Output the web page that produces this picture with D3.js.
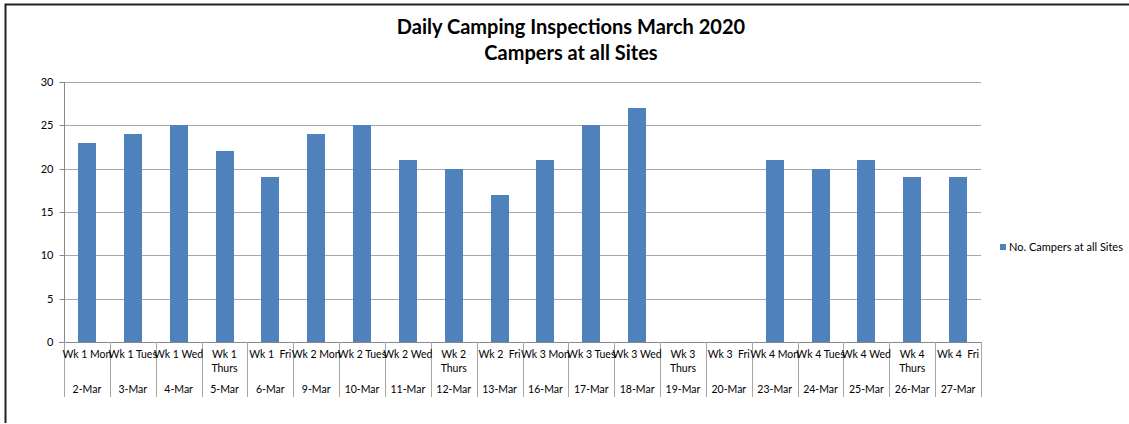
<!DOCTYPE html>
<html><head><meta charset="utf-8">
<script src="https://cdn.jsdelivr.net/npm/d3@7"></script>
<style>body{margin:0;background:#fff}svg{display:block}text{font-family:Lato,"Open Sans",sans-serif;fill:#000}</style>
</head><body><svg id="c" width="1129" height="424"></svg>
<script>
const dayLabels = ["Wk 1 Mon","Wk 1 Tues","Wk 1 Wed","Wk 1|Thurs","Wk 1  Fri","Wk 2 Mon","Wk 2 Tues","Wk 2 Wed","Wk 2|Thurs","Wk 2  Fri","Wk 3 Mon","Wk 3 Tues","Wk 3 Wed","Wk 3|Thurs","Wk 3  Fri","Wk 4 Mon","Wk 4 Tues","Wk 4 Wed","Wk 4|Thurs","Wk 4  Fri"];
const dateLabels = ["2-Mar","3-Mar","4-Mar","5-Mar","6-Mar","9-Mar","10-Mar","11-Mar","12-Mar","13-Mar","16-Mar","17-Mar","18-Mar","19-Mar","20-Mar","23-Mar","24-Mar","25-Mar","26-Mar","27-Mar"];
const campers = [23,24,25,22,19,24,25,21,20,17,21,25,27,null,null,21,20,21,19,19];
const yTicks = [0,5,10,15,20,25,30];
const seriesName = "No. Campers at all Sites";
const titleLines = ["Daily Camping Inspections March 2020","Campers at all Sites"];

const svg = d3.select("#c");
const L=64,R=981,T=82,B=342;
const x = d3.scaleBand().domain(d3.range(dateLabels.length)).range([L,R]).paddingInner(0.61).paddingOuter(0.305);
const xc = d3.scaleBand().domain(d3.range(dateLabels.length)).range([L,R]);
const y = d3.scaleLinear().domain([0,30]).range([B,T]);

// border
svg.append("path").attr("d","M5.5,423 V4.5 H1129").attr("fill","none").attr("stroke","#222").attr("stroke-width",2);

// title
svg.append("text").attr("x",571).attr("y",34).attr("text-anchor","middle").style("font-weight","bold").style("font-size","20px").text(titleLines[0]);
svg.append("text").attr("x",571).attr("y",60).attr("text-anchor","middle").style("font-weight","bold").style("font-size","20px").text(titleLines[1]);

// grid
svg.append("g").selectAll("line").data(yTicks.filter(d=>d>0)).join("line")
 .attr("x1",L).attr("x2",R).attr("y1",d=>Math.round(y(d))+0.5).attr("y2",d=>Math.round(y(d))+0.5).attr("stroke","#a6a6a6");

// y axis
const ya = svg.append("g").attr("transform",`translate(${L+0.5},0)`).call(d3.axisLeft(y).tickValues(yTicks).tickSize(5).tickPadding(6));
ya.select(".domain").attr("stroke","#888").attr("d",`M-5,${T+0.5}H0V${B+0.5}`);
ya.selectAll(".tick line").attr("stroke","#888");
ya.selectAll(".tick").attr("transform",d=>`translate(0,${Math.round(y(d))+0.5})`);
ya.selectAll("text").style("font-size","11px").attr("fill","#000").style("font-family","Lato, sans-serif");

// bars
svg.append("g").selectAll("rect").data(campers.map((v,i)=>({v,i})).filter(d=>d.v!=null)).join("rect")
 .attr("x",d=>Math.round(x(d.i))).attr("width",Math.round(x.bandwidth()))
 .attr("y",d=>Math.round(y(d.v))).attr("height",d=>B-Math.round(y(d.v)))
 .attr("fill","#4f81bd");

// x axis line
svg.append("line").attr("x1",L-5).attr("x2",R).attr("y1",B+0.5).attr("y2",B+0.5).attr("stroke","#888");

// separators
svg.append("g").selectAll("line").data(d3.range(dateLabels.length+1)).join("line")
 .attr("x1",i=>Math.round(L+i*xc.bandwidth())+0.5).attr("x2",i=>Math.round(L+i*xc.bandwidth())+0.5)
 .attr("y1",B).attr("y2",397).attr("stroke","#a6a6a6");

// day labels
const dl = svg.append("g").selectAll("text").data(dayLabels).join("text")
 .attr("text-anchor","middle").style("font-size","10.5px").attr("fill","#222").attr("xml:space","preserve");
dl.each(function(d,i){
  const parts=d.split("|");
  const t=d3.select(this);
  parts.forEach((p,j)=>t.append("tspan").attr("x",xc(i)+xc.bandwidth()/2).attr("y",358+j*14).text(p));
});

svg.append("g").selectAll("text").data(dateLabels).join("text")
 .attr("x",(d,i)=>xc(i)+xc.bandwidth()/2).attr("y",393).attr("text-anchor","middle").style("font-size","10.5px").attr("fill","#222").text(d=>d);

// legend
svg.append("rect").attr("x",1000).attr("y",244).attr("width",6).attr("height",6).attr("fill","#4f81bd");
svg.append("text").attr("x",1009).attr("y",251).style("font-size","11px").attr("fill","#222").text(seriesName);
</script></body></html>
